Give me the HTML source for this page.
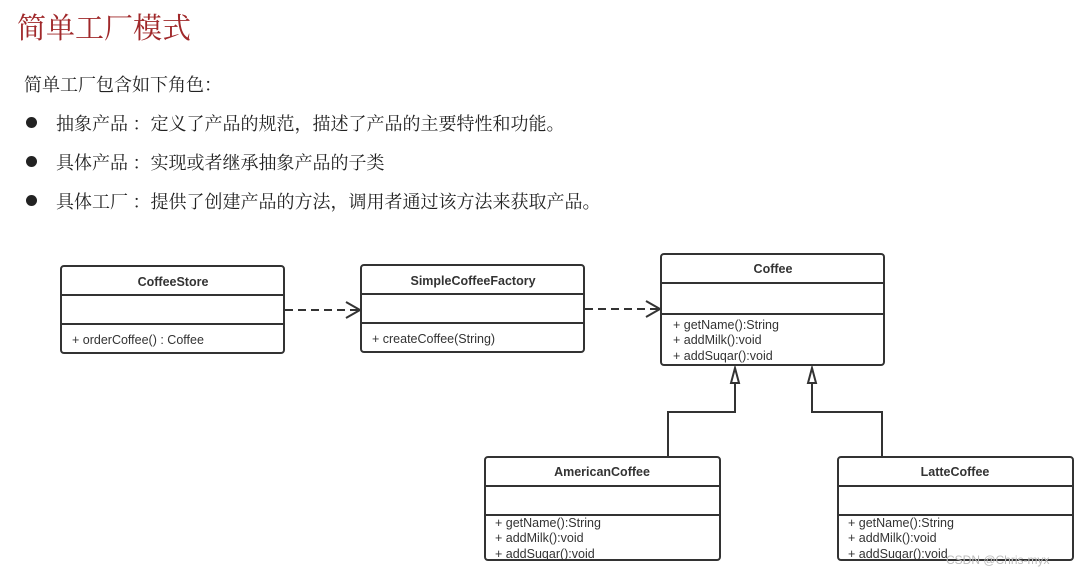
<!DOCTYPE html>
<html><head><meta charset="utf-8"><style>
body{margin:0;width:1081px;height:577px;background:#fff;position:relative;overflow:hidden;font-family:"Liberation Serif","Noto Serif CJK SC","Noto Sans CJK SC",serif;}
.t{position:absolute;white-space:nowrap;color:#222;font-size:18px;}
.dot{position:absolute;width:11px;height:11px;border-radius:50%;background:#222;}
svg{position:absolute;left:0;top:0}
svg text{font-family:"Liberation Sans","Noto Sans CJK SC",sans-serif;font-size:12.5px;fill:#333}
</style></head><body>
<div class="t" style="left:17px;top:6px;font-size:29px;color:#a0282a">简单工厂模式</div>
<div class="t" style="left:24px;top:71px">简单工厂包含如下角色：</div>
<div class="dot" style="left:26px;top:117px"></div>
<div class="t" style="left:56px;top:110px">抽象产品 ：定义了产品的规范，描述了产品的主要特性和功能。</div>
<div class="dot" style="left:26px;top:156px"></div>
<div class="t" style="left:56px;top:149px">具体产品 ：实现或者继承抽象产品的子类</div>
<div class="dot" style="left:26px;top:195px"></div>
<div class="t" style="left:56px;top:188px">具体工厂 ：提供了创建产品的方法，调用者通过该方法来获取产品。</div>
<svg width="1081" height="577">
<g fill="#fff" stroke="#333" stroke-width="2">
<rect x="61" y="266" width="223" height="87" rx="3"/>
<line x1="61" y1="295" x2="284" y2="295"/><line x1="61" y1="324" x2="284" y2="324"/>
<rect x="361" y="265" width="223" height="87" rx="3"/>
<line x1="361" y1="294" x2="584" y2="294"/><line x1="361" y1="323" x2="584" y2="323"/>
<rect x="661" y="254" width="223" height="111" rx="3"/>
<line x1="661" y1="283" x2="884" y2="283"/><line x1="661" y1="314" x2="884" y2="314"/>
<rect x="485" y="457" width="235" height="103" rx="3"/>
<line x1="485" y1="486" x2="720" y2="486"/><line x1="485" y1="515" x2="720" y2="515"/>
<rect x="838" y="457" width="235" height="103" rx="3"/>
<line x1="838" y1="486" x2="1073" y2="486"/><line x1="838" y1="515" x2="1073" y2="515"/>
</g>
<g fill="none" stroke="#333" stroke-width="2">
<line x1="285" y1="310" x2="358" y2="310" stroke-dasharray="8,5"/>
<polyline points="346,302 360,310 346,318"/>
<line x1="585" y1="309" x2="658" y2="309" stroke-dasharray="8,5"/>
<polyline points="646,301 660,309 646,317"/>
<polyline points="668,457 668,412 735,412 735,383"/>
<polyline points="882,457 882,412 812,412 812,383"/>
<polygon points="735,368 731,383 739,383" fill="#fff"/>
<polygon points="812,368 808,383 816,383" fill="#fff"/>
</g>
<g font-weight="bold" text-anchor="middle" style="font-weight:bold">
<text x="173" y="286" style="font-weight:bold">CoffeeStore</text>
<text x="473" y="285" style="font-weight:bold">SimpleCoffeeFactory</text>
<text x="773" y="273" style="font-weight:bold">Coffee</text>
<text x="602" y="476" style="font-weight:bold">AmericanCoffee</text>
<text x="955" y="476" style="font-weight:bold">LatteCoffee</text>
</g>
<text x="72" y="344">+ orderCoffee() : Coffee</text>
<text x="372" y="343">+ createCoffee(String)</text>
<text x="673" y="329">+ getName():String</text>
<text x="673" y="344">+ addMilk():void</text>
<text x="673" y="360">+ addSuqar():void</text>
<text x="495" y="527">+ getName():String</text>
<text x="495" y="542">+ addMilk():void</text>
<text x="495" y="558">+ addSuqar():void</text>
<text x="848" y="527">+ getName():String</text>
<text x="848" y="542">+ addMilk():void</text>
<text x="848" y="558">+ addSuqar():void</text>
<text x="946" y="564" style="fill:#bbb;font-size:12px">CSDN @Chris-myx</text>
</svg>
</body></html>
